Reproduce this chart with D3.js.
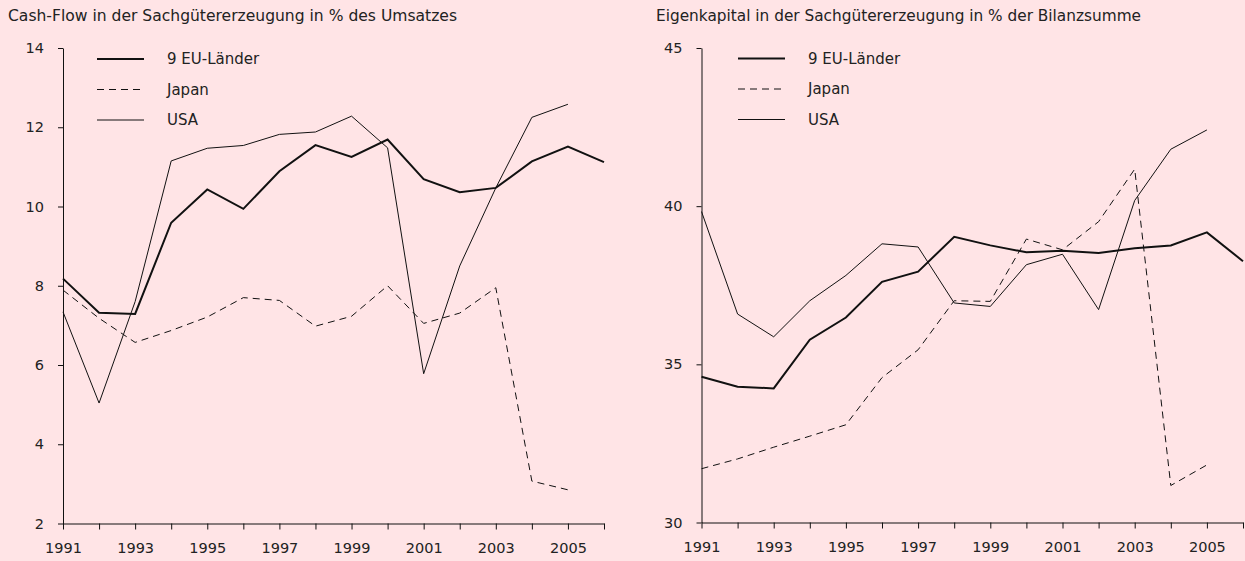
<!DOCTYPE html>
<html>
<head>
<meta charset="utf-8">
<script src="https://cdn.jsdelivr.net/npm/d3@7"></script>
<style>
  html, body { margin: 0; padding: 0; background: #ffe4e6; }
  svg { display: block; }
  text { font-family: "DejaVu Sans", sans-serif; fill: #222; }
</style>
</head>
<body>
<svg id="chart" width="1245" height="561"></svg>
<script>
// Years on the horizontal axis (both panels)
const years = [1991, 1992, 1993, 1994, 1995, 1996, 1997, 1998, 1999, 2000, 2001, 2002, 2003, 2004, 2005, 2006];
const yearLabels = [1991, 1993, 1995, 1997, 1999, 2001, 2003, 2005];
const seriesNames = ["9 EU-Länder", "Japan", "USA"];

// Cash-Flow in % des Umsatzes
const cashEU    = [8.18, 7.32, 7.29, 9.59, 10.43, 9.94, 10.89, 11.55, 11.25, 11.69, 10.69, 10.36, 10.47, 11.14, 11.51, 11.12];
const cashJapan = [7.89, 7.18, 6.57, 6.87, 7.21, 7.70, 7.63, 6.98, 7.23, 8.00, 7.05, 7.31, 7.95, 3.07, 2.85, null];
const cashUSA   = [7.34, 5.04, 7.60, 11.15, 11.47, 11.54, 11.82, 11.88, 12.28, 11.48, 5.78, 8.50, 10.47, 12.25, 12.58, null];
const cashTicks = [2, 4, 6, 8, 10, 12, 14];

// Eigenkapital in % der Bilanzsumme
const equityEU    = [34.61, 34.29, 34.24, 35.78, 36.48, 37.61, 37.93, 39.03, 38.76, 38.54, 38.59, 38.52, 38.67, 38.76, 39.17, 38.26];
const equityJapan = [31.70, 32.01, 32.38, 32.73, 33.09, 34.58, 35.46, 37.01, 36.99, 38.96, 38.62, 39.51, 41.17, 31.17, 31.82, null];
const equityUSA   = [39.83, 36.59, 35.87, 37.01, 37.81, 38.81, 38.71, 36.94, 36.83, 38.15, 38.48, 36.73, 40.18, 41.80, 42.41, null];
const equityTicks = [30, 35, 40, 45];

const styles = [
  { width: 2, dash: null },
  { width: 1, dash: "7,5" },
  { width: 1, dash: null }
];

const svg = d3.select("#chart");

function panel(opts) {
  const x = d3.scaleLinear().domain([1991, 2006]).range([opts.x0, opts.x1]);
  const y = d3.scaleLinear().domain(opts.domain).range([opts.yBottom, opts.yTop]);
  const g = svg.append("g");

  g.append("text")
    .attr("x", opts.titleX).attr("y", 21)
    .attr("textLength", opts.titleWidth)
    .attr("lengthAdjust", "spacingAndGlyphs")
    .style("font-size", "15px")
    .text(opts.title);

  // y axis
  const ya = g.append("g")
    .attr("transform", `translate(${opts.x0},0)`)
    .call(d3.axisLeft(y).tickValues(opts.ticks).tickSize(5).tickSizeOuter(0).tickPadding(14).tickFormat(d3.format("d")));
  ya.select(".domain").attr("stroke", "#111");
  ya.selectAll("line").attr("stroke", "#111");
  ya.selectAll("text").style("font-size", "14.5px").attr("fill", "#222");

  // x axis
  const xa = g.append("g")
    .attr("transform", `translate(0,${opts.yBottom})`)
    .call(d3.axisBottom(x).tickValues(years).tickSize(6).tickSizeOuter(0).tickPadding(13)
      .tickFormat(d => yearLabels.includes(d) ? String(d) : ""));
  xa.select(".domain").attr("stroke", "#111");
  xa.selectAll("line").attr("stroke", "#111");
  xa.selectAll("text").style("font-size", "14.5px").attr("fill", "#222");

  const line = d3.line()
    .defined(d => d[1] != null)
    .x(d => x(d[0]))
    .y(d => y(d[1]));

  opts.series.forEach((vals, i) => {
    g.append("path")
      .datum(years.map((yr, k) => [yr, vals[k]]))
      .attr("fill", "none")
      .attr("stroke", "#111")
      .attr("stroke-width", styles[i].width)
      .attr("stroke-dasharray", styles[i].dash)
      .attr("stroke-linejoin", "miter")
      .attr("d", line);
  });

  // legend
  seriesNames.forEach((name, i) => {
    const ly = opts.legendY + i * 30.5;
    g.append("line")
      .attr("x1", opts.legendX).attr("x2", opts.legendX + 47)
      .attr("y1", ly).attr("y2", ly)
      .attr("stroke", "#111")
      .attr("stroke-width", styles[i].width)
      .attr("stroke-dasharray", styles[i].dash);
    g.append("text")
      .attr("x", opts.legendX + 70).attr("y", ly + 5)
      .style("font-size", "15px")
      .text(name);
  });
}

panel({
  title: "Cash-Flow in der Sachgütererzeugung in % des Umsatzes",
  titleX: 8, titleWidth: 449,
  x0: 63, x1: 604, yTop: 48, yBottom: 523.5,
  domain: [2, 14], ticks: cashTicks,
  series: [cashEU, cashJapan, cashUSA],
  legendX: 97, legendY: 59
});

panel({
  title: "Eigenkapital in der Sachgütererzeugung in % der Bilanzsumme",
  titleX: 656, titleWidth: 485,
  x0: 701.5, x1: 1243, yTop: 48, yBottom: 522.5,
  domain: [30, 45], ticks: equityTicks,
  series: [equityEU, equityJapan, equityUSA],
  legendX: 738, legendY: 58.5
});
</script>
</body>
</html>
